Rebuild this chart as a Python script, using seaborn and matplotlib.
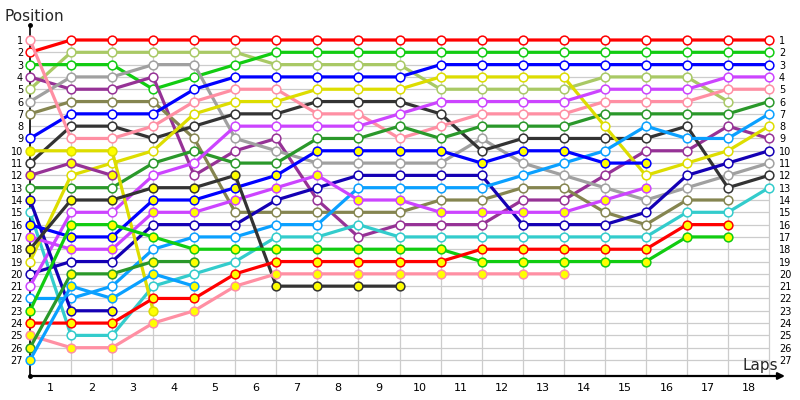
import numpy as np
import pandas as pd
import matplotlib
matplotlib.use('Agg')
import matplotlib.pyplot as plt
import seaborn as sns

# ==========================================
# DATA: position of each car at the grid (lap 0) and after each lap
# ==========================================
laps = list(range(19))
lap_labels = [str(i) for i in range(1, 19)]
positions = list(range(1, 28))

# cars running normally (white markers)
red = [2, 1, 1, 1, 1, 1, 1, 1, 1, 1, 1, 1, 1, 1, 1, 1, 1, 1, 1]
light_green = [5, 2, 2, 2, 2, 2, 3, 3, 3, 3, 5, 5, 5, 5, 4, 4, 4, 6, None]
green = [3, 3, 3, 5, 4, 3, 2, 2, 2, 2, 2, 2, 2, 2, 2, 2, 2, 2, 2]
purple = [4, 5, 5, 4, 12, 10, 9, 14, 17, 16, 16, 16, 14, 14, 12, 10, 10, 8, 9]
grey = [6, 4, 4, 3, 3, 9, 10, 11, 11, 11, 11, 9, 11, 12, 13, 14, 13, 12, 11]
olive = [7, 6, 6, 6, 9, 15, 15, 15, 15, 15, 14, 14, 13, 13, 15, 16, 14, 14, None]
blue = [9, 7, 7, 7, 5, 4, 4, 4, 4, 4, 3, 3, 3, 3, 3, 3, 3, 3, 3]
black = [11, 8, 8, 9, 8, 7, 7, 6, 6, 6, 7, 10, 9, 9, 9, 9, 8, 13, 12]
pink = [1, 9, 9, 8, 6, 5, 5, 7, 7, 9, 8, 7, 7, 7, 6, 6, 6, 5, 5]
dark_green = [13, 13, 13, 11, 10, 11, 11, 9, 9, 8, 9, 8, 8, 8, 7, 7, 7, 7, 6]
cyan = [15, 25, 25, 21, 20, 19, 17, 17, 16, 17, 17, 17, 17, 17, 17, 17, 15, 15, 13]
yellow = [19, 12, 11, 10, 7, 6, 6, 5, 5, 5, 4, 4, 4, 4, 8, 12, 11, 10, 8]
dark_blue = [20, 19, 19, 16, 16, 16, 14, 13, 12, 12, 12, 12, 16, 16, 16, 15, 12, 11, 10]
violet = [21, 15, 15, 12, 11, 8, 8, 8, 8, 7, 6, 6, 6, 6, 5, 5, 5, 4, 4]
light_blue = [22, 22, 21, 18, 17, 17, 16, 16, 13, 13, 13, 13, 12, 11, 10, 8, 9, 9, 7]

# cars with yellow markers
yellow_b = [10, 10, 10, 23]
purple_b = [12, 11, 12]
dark_blue_b = [14, 23, 23]
blue_b = [16, 17, 17, 14, 14, 13, 12, 10, 10, 10, 10, 11, 10, 10, 11, 11]
violet_b = [17, 18, 18, 15, 15, 14, 13, 12, 14, 14, 15, 15, 15, 15, 14, 13]
black_b = [18, 14, 14, 13, 13, 12, 21, 21, 21, 21]
green_b = [23, 16, 16, 17, 18, 18, 18, 18, 18, 18, 18, 19, 19, 19, 19, 19, 17, 17]
red_b = [24, 24, 24, 22, 22, 20, 19, 19, 19, 19, 19, 18, 18, 18, 18, 18, 16, 16]
pink_b = [25, 26, 26, 24, 23, 21, 20, 20, 20, 20, 20, 20, 20, 20]
dark_green_b = [26, 20, 20, 19, 19]
light_blue_b = [27, 21, 22, 20, 21]

cores = {
    'red': '#ff0000', 'light_green': '#a9c965', 'green': '#11cc11',
    'purple': '#963296', 'grey': '#a0a0a0', 'olive': '#858550',
    'blue': '#0000ff', 'black': '#333333', 'pink': '#ff8fa3',
    'dark_green': '#2a982a', 'cyan': '#33cccc', 'yellow': '#dddd00',
    'dark_blue': '#1400b4', 'violet': '#cc44ff', 'light_blue': '#0aa0ff',
}

carros = [
    (red, 'red', False), (light_green, 'light_green', False), (green, 'green', False),
    (purple, 'purple', False), (grey, 'grey', False), (olive, 'olive', False),
    (blue, 'blue', False), (black, 'black', False), (pink, 'pink', False),
    (dark_green, 'dark_green', False), (cyan, 'cyan', False), (yellow, 'yellow', False),
    (dark_blue, 'dark_blue', False), (violet, 'violet', False), (light_blue, 'light_blue', False),
    (yellow_b, 'yellow', True), (purple_b, 'purple', True), (dark_blue_b, 'dark_blue', True),
    (blue_b, 'blue', True), (violet_b, 'violet', True), (black_b, 'black', True),
    (green_b, 'green', True), (red_b, 'red', True), (pink_b, 'pink', True),
    (dark_green_b, 'dark_green', True), (light_blue_b, 'light_blue', True),
]

# ==========================================
# PLOT
# ==========================================
sns.set_theme(style='white')
plt.rcParams['font.family'] = ['DejaVu Sans']

fig = plt.figure(figsize=(8, 4), dpi=100)
ax = fig.add_axes([30 / 800, 24 / 400, 742 / 800, 351 / 400])

# grid lines
ax.hlines(positions, 0, 18, color='#cccccc', lw=0.9, zorder=0)
ax.vlines(laps[1:], 1, 28.3, color='#cccccc', lw=0.9, zorder=0)

for pos, nome, amarelo in carros:
    df = pd.DataFrame({'Lap': laps[:len(pos)], 'Position': pos}).dropna()
    cor = cores[nome]
    sns.lineplot(
        data=df, x='Lap', y='Position', ax=ax,
        color=cor, lw=2.3, sort=False, estimator=None,
        marker='o', markersize=6.3,
        markerfacecolor='#ffff00' if amarelo else 'white',
        markeredgecolor=cor, markeredgewidth=1.1,
        clip_on=False, zorder=3,
    )

ax.set_xlim(0, 18 + 3 / 41.06)
ax.set_ylim(27 + 16 / 12.31, 1 - 15 / 12.31)

ax.set_yticks(positions)
ax.set_yticklabels([str(p) for p in positions])
ax.set_xticks([i + 0.5 for i in range(18)])
ax.set_xticklabels(lap_labels)
ax.tick_params(axis='y', length=0, labelsize=7, pad=5, labelright=True, colors='black')
ax.tick_params(axis='x', length=0, labelsize=8, pad=5, colors='black')
ax.set_xlabel('')
ax.set_ylabel('')

for lado in ['top', 'right', 'bottom']:
    ax.spines[lado].set_visible(False)
ax.spines['left'].set_color('black')
ax.spines['left'].set_linewidth(1.2)
ax.spines['left'].set_zorder(1)

# axis arrow and end dots
ax.annotate('', xy=(755 / 742, 0), xytext=(0, 0), xycoords='axes fraction',
            arrowprops=dict(arrowstyle='-|>', color='black', lw=1.6,
                            mutation_scale=10, shrinkA=0, shrinkB=0))
ax.plot([0, 0], [0, 1], 'o', color='black', ms=2.5, transform=ax.transAxes, clip_on=False)

fig.text(5 / 800, 1 - 21 / 400, 'Position', fontsize=11, va='baseline')
fig.text(742 / 800, 1 - 370 / 400, 'Laps', fontsize=11, va='baseline')

fig.savefig('out.png', dpi=100)
